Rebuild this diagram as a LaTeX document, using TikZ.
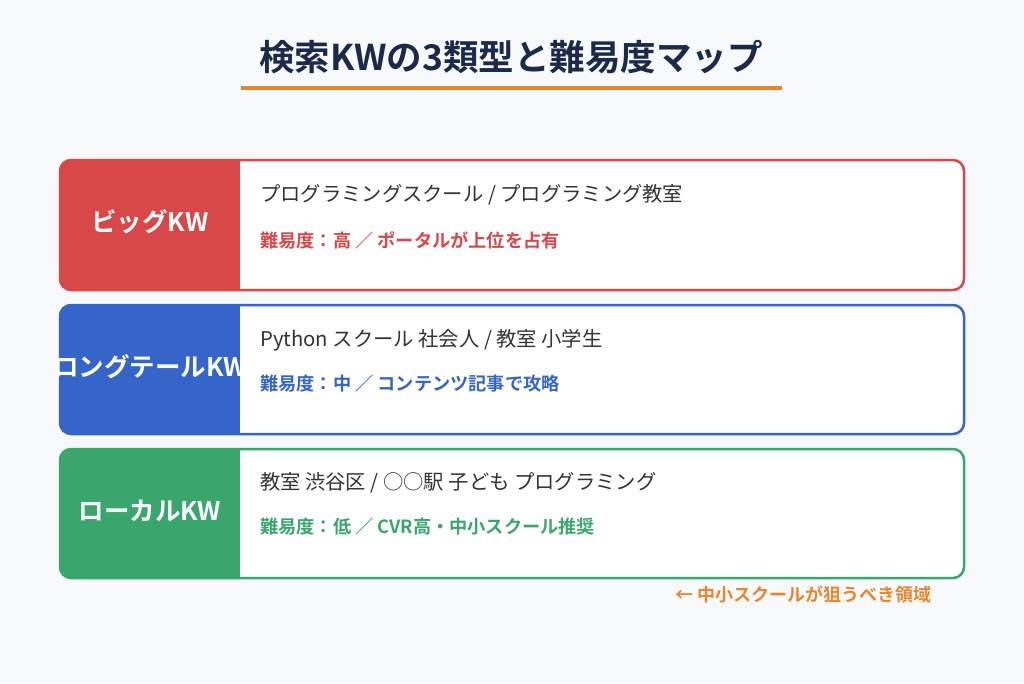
\documentclass[tikz,border=0pt]{standalone}
\usepackage{fontspec}
\setmainfont{Noto Sans CJK JP}[BoldFont={Noto Sans CJK JP Bold}]
\usepackage{tikz}
\usetikzlibrary{positioning}

\definecolor{kwbg}{RGB}{248,249,251}
\definecolor{kwnavy}{RGB}{27,42,74}
\definecolor{kworange}{RGB}{233,134,44}
\definecolor{kwred}{RGB}{217,72,72}
\definecolor{kwblue}{RGB}{53,101,200}
\definecolor{kwgreen}{RGB}{58,166,110}
\definecolor{kwgray}{RGB}{51,51,51}

\begin{document}
\begin{tikzpicture}[x=1pt,y=-1pt,
  kwbox/.style = {shape=rectangle, rounded corners=11pt, line width=2.5pt,
    minimum width=904pt, minimum height=130pt, inner sep=0pt},
  kwlabel/.style = {text=white, inner sep=0pt,
    font=\fontsize{25.5}{30}\selectfont\bfseries},
  kwmain/.style = {anchor=west, inner sep=0pt, text=kwgray,
    font=\fontsize{20.3}{24}\selectfont},
  kwdiff/.style = {anchor=west, inner sep=0pt,
    font=\fontsize{18.2}{22}\selectfont\bfseries}
  ]
  \fill[kwbg] (0,0) rectangle (1024,683);
  \useasboundingbox (0,0) rectangle (1024,683);

  % title
  \node[text=kwnavy, font=\fontsize{35.5}{40}\selectfont\bfseries] (title) at (511,57) {検索KWの3類型と難易度マップ};
  \draw[kworange, line width=4pt] (241,88) -- (782,88);

  % big keywords
  \begin{scope}
    \clip[rounded corners=11pt] (60,160) rectangle (964,290);
    \fill[white] (60,160) rectangle (964,290);
    \fill[kwred] (60,160) rectangle (240,290);
  \end{scope}
  \node[kwbox, draw=kwred] (big) at (512,225) {};
  \node[kwlabel] (bigl) at (150,222) {ビッグKW};
  \node[kwmain] (bigm) at (260,195) {プログラミングスクール / プログラミング教室};
  \node[kwdiff, text=kwred] (bigd) at (260,240) {難易度：高 ／ ポータルが上位を占有};

  % long tail keywords
  \begin{scope}
    \clip[rounded corners=11pt] (60,305) rectangle (964,434);
    \fill[white] (60,305) rectangle (964,434);
    \fill[kwblue] (60,305) rectangle (240,434);
  \end{scope}
  \node[kwbox, draw=kwblue, minimum height=129pt] (long) at (512,369.5) {};
  \node[kwlabel] (longl) at (150,367) {ロングテールKW};
  \node[kwmain] (longm) at (260,340) {Python スクール 社会人 / 教室 小学生};
  \node[kwdiff, text=kwblue] (longd) at (260,384) {難易度：中 ／ コンテンツ記事で攻略};

  % local keywords
  \begin{scope}
    \clip[rounded corners=11pt] (60,449) rectangle (964,578);
    \fill[white] (60,449) rectangle (964,578);
    \fill[kwgreen] (60,449) rectangle (240,578);
  \end{scope}
  \node[kwbox, draw=kwgreen, minimum height=129pt] (local) at (512,513.5) {};
  \node[kwlabel] (locall) at (150,511) {ローカルKW};
  \node[kwmain] (localm) at (260,483) {教室 渋谷区 / ○○駅 子ども プログラミング};
  \node[kwdiff, text=kwgreen] (locald) at (260,527) {難易度：低 ／ CVR高・中小スクール推奨};

  % note
  \node[anchor=east, inner sep=0pt, text=kworange,
    font=\fontsize{18}{21}\selectfont\bfseries] (note) at (932,595) {← 中小スクールが狙うべき領域};
\end{tikzpicture}
\end{document}
